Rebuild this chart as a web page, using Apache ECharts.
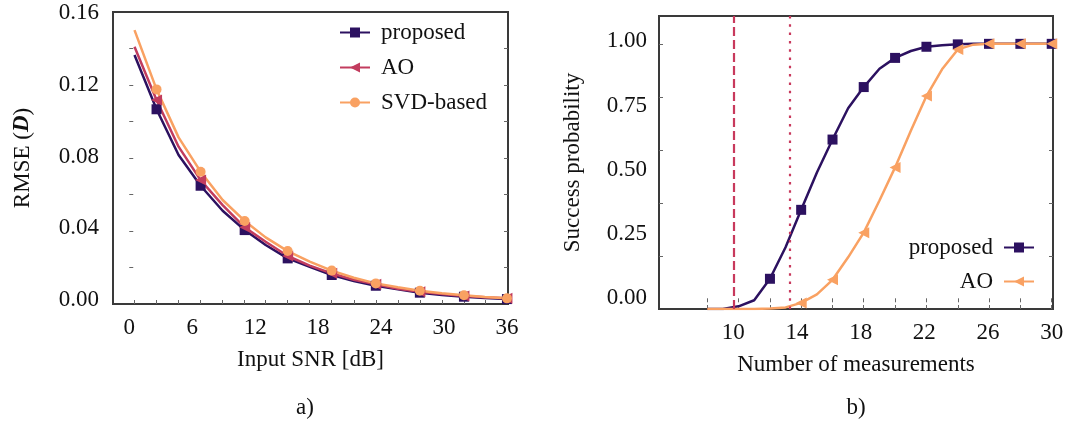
<!DOCTYPE html>
<html>
<head>
<meta charset="utf-8">
<script src="https://cdn.jsdelivr.net/npm/echarts@6/dist/echarts.min.js"></script>
<style>
  html, body { margin: 0; padding: 0; background: #ffffff; }
  #chart { width: 1067px; height: 426px; }
</style>
</head>
<body>
<div id="chart"></div>
<script>
// ---- (a) RMSE versus input SNR ----
const snrX = [0.5, 2.6, 4.7, 6.8, 8.9, 11.0, 13.0, 15.1, 17.2, 19.3, 21.4, 23.5, 25.6, 27.7, 29.8, 31.9, 33.9, 36.0];
const rmseProposed = [0.1364, 0.1067, 0.0816, 0.0648, 0.0511, 0.0405, 0.0323, 0.0250, 0.0204, 0.0159, 0.0126, 0.0100, 0.0081, 0.0062, 0.0049, 0.0040, 0.0033, 0.0027];
const rmseAO       = [0.1410, 0.1118, 0.0862, 0.0679, 0.0542, 0.0420, 0.0341, 0.0263, 0.0210, 0.0168, 0.0133, 0.0108, 0.0084, 0.0067, 0.0055, 0.0044, 0.0037, 0.0031];
const rmseSVD      = [0.1501, 0.1176, 0.0913, 0.0725, 0.0570, 0.0455, 0.0365, 0.0290, 0.0232, 0.0183, 0.0144, 0.0113, 0.0092, 0.0073, 0.0059, 0.0048, 0.0038, 0.0031];
const snrTickLabels = [0, 6, 12, 18, 24, 30, 36];
const rmseTickLabels = [0, 0.04, 0.08, 0.12, 0.16];
const rmseMinorTicks = [0.02, 0.04, 0.06, 0.08, 0.10, 0.12, 0.14];

// ---- (b) success probability versus number of measurements ----
const measX = [8.36, 9.34, 10.33, 11.31, 12.30, 13.28, 14.26, 15.25, 16.23, 17.21, 18.19, 19.18, 20.16, 21.15, 22.13, 23.11, 24.10, 25.08, 26.06, 27.05, 28.03, 29.02, 30.00];
const probProposed = [0, 0, 0.010, 0.033, 0.114, 0.233, 0.374, 0.515, 0.639, 0.757, 0.837, 0.906, 0.947, 0.973, 0.989, 0.995, 0.998, 1, 1, 1, 1, 1, 1];
const probAO       = [0, 0, 0, 0, 0.002, 0.006, 0.023, 0.055, 0.110, 0.195, 0.288, 0.409, 0.534, 0.672, 0.803, 0.904, 0.979, 0.997, 1, 1, 1, 1, 1];
const measTickLabels = [10, 14, 18, 22, 26, 30];
const probTickLabels = [0, 0.25, 0.5, 0.75, 1.0];
const probMinorTicks = [0.2, 0.4, 0.6, 0.8, 1.0];
const boundDashed = 10;
const boundDotted = 13.57;

const FONT = 'Liberation Serif';
const FS = 23;
const TXT = '#111111';
const C_PROP = '#2c1160';
const C_AO = '#c23c5e';
const C_SVD = '#f9a162';
const C_BOUND = '#c8395c';
const TICK = '#666666';

// markers on every other sample; points resting on the frame get no marker
function points(xs, ys, markerParity, minShown) {
  return xs.map((x, i) => {
    const item = { value: [x, ys[i]] };
    if (i % 2 !== markerParity || ys[i] < minShown) item.symbol = 'none';
    return item;
  });
}

function tickOnlyAxis(grid, position, min, max, ticks) {
  return {
    type: 'value', gridIndex: grid, position: position, min: min, max: max,
    axisLine: { show: false },
    axisLabel: { show: false },
    splitLine: { show: false },
    axisTick: { show: true, inside: true, length: 4, customValues: ticks, lineStyle: { color: TICK, width: 1 } }
  };
}

function labelAxis(grid, position, min, max, labels, fmt, margin, name, nameGap) {
  return {
    type: 'value', gridIndex: grid, position: position, min: min, max: max,
    axisLine: { show: false },
    axisTick: { show: false },
    splitLine: { show: false },
    axisLabel: {
      show: true, customValues: labels, margin: margin,
      fontFamily: FONT, fontSize: FS, color: TXT, formatter: fmt
    },
    name: name, nameLocation: 'middle', nameGap: nameGap,
    nameTextStyle: {
      fontFamily: FONT, fontSize: FS, color: TXT,
      rich: { it: { fontFamily: FONT, fontSize: FS, fontStyle: 'italic', fontWeight: 'bold', color: TXT } }
    }
  };
}

const legendNames = { 'b-proposed': 'proposed', 'b-AO': 'AO' };

const option = {
  animation: false,
  backgroundColor: '#ffffff',
  grid: [
    { left: 113, top: 12, width: 395, height: 292, show: true, borderColor: '#3a3a3a', borderWidth: 2, backgroundColor: 'transparent' },
    { left: 659, top: 16, width: 394, height: 293, show: true, borderColor: '#3a3a3a', borderWidth: 2, backgroundColor: 'transparent' }
  ],
  xAxis: [
    // (a) bottom: labels + ticks at sample positions
    Object.assign(labelAxis(0, 'bottom', -1.55, 36.1, snrTickLabels, v => String(v), 12, 'Input SNR [dB]', 44), {
      axisTick: { show: true, inside: true, length: 4, customValues: snrX, lineStyle: { color: TICK, width: 1 } }
    }),
    tickOnlyAxis(0, 'top', -1.55, 36.1, snrX),
    // (b)
    Object.assign(labelAxis(1, 'bottom', 5.33, 30.08, measTickLabels, v => String(v), 12, 'Number of measurements', 44), {
      axisTick: { show: true, inside: true, length: 4, customValues: measX.filter((x, i) => i % 2 === 0), lineStyle: { color: TICK, width: 1 } }
    }),
    tickOnlyAxis(1, 'top', 5.33, 30.08, measX.filter((x, i) => i % 2 === 0))
  ],
  yAxis: [
    // (a) data scale with ticks, label scale, right ticks
    tickOnlyAxis(0, 'left', 0, 0.16, rmseMinorTicks),
    labelAxis(0, 'left', -0.00223, 0.16056, rmseTickLabels, v => v.toFixed(2), 14, 'RMSE ({it|D})', 79),
    tickOnlyAxis(0, 'right', 0, 0.16, rmseMinorTicks),
    // (b)
    tickOnlyAxis(1, 'left', 0, 1.105, probMinorTicks),
    labelAxis(1, 'left', -0.0416, 1.0985, probTickLabels, v => v.toFixed(2), 12, 'Success probability', 75),
    tickOnlyAxis(1, 'right', 0, 1.105, probMinorTicks)
  ],
  legend: [
    {
      data: ['proposed', 'AO', 'SVD-based'],
      orient: 'vertical', left: 339, top: 21, padding: 0,
      itemWidth: 30, itemHeight: 12.5, itemGap: 12,
      selectedMode: false,
      textStyle: { fontFamily: FONT, fontSize: FS, color: TXT, padding: [0, 0, 0, 6] }
    },
    {
      data: ['b-proposed', 'b-AO'],
      orient: 'vertical', align: 'right', right: 32, top: 236, padding: 0,
      itemWidth: 30, itemHeight: 12.5, itemGap: 11,
      selectedMode: false,
      formatter: name => legendNames[name],
      textStyle: { fontFamily: FONT, fontSize: FS, color: TXT, padding: [0, 6, 0, 0] }
    }
  ],
  series: [
    {
      name: 'proposed', type: 'line', xAxisIndex: 0, yAxisIndex: 0,
      data: points(snrX, rmseProposed, 1, -1),
      symbol: 'rect', symbolSize: 10, showAllSymbol: true,
      lineStyle: { color: C_PROP, width: 2.5 }, itemStyle: { color: C_PROP }
    },
    {
      name: 'AO', type: 'line', xAxisIndex: 0, yAxisIndex: 0,
      data: points(snrX, rmseAO, 1, -1),
      symbol: 'triangle', symbolRotate: 90, symbolSize: 11, showAllSymbol: true,
      lineStyle: { color: C_AO, width: 2.5 }, itemStyle: { color: C_AO }
    },
    {
      name: 'SVD-based', type: 'line', xAxisIndex: 0, yAxisIndex: 0,
      data: points(snrX, rmseSVD, 1, -1),
      symbol: 'circle', symbolSize: 10, showAllSymbol: true,
      lineStyle: { color: C_SVD, width: 2.5 }, itemStyle: { color: C_SVD }
    },
    {
      name: 'b-proposed', type: 'line', xAxisIndex: 2, yAxisIndex: 3,
      data: points(measX, probProposed, 0, 0.015),
      symbol: 'rect', symbolSize: 10, showAllSymbol: true,
      lineStyle: { color: C_PROP, width: 2.5 }, itemStyle: { color: C_PROP },
      markLine: {
        silent: true, symbol: 'none', label: { show: false },
        data: [
          { xAxis: boundDashed, lineStyle: { color: C_BOUND, width: 2.2, type: [9, 4] } },
          { xAxis: boundDotted, lineStyle: { color: C_BOUND, width: 2.2, type: [2.5, 5.8] } }
        ]
      }
    },
    {
      name: 'b-AO', type: 'line', xAxisIndex: 2, yAxisIndex: 3,
      data: points(measX, probAO, 0, 0.015),
      symbol: 'triangle', symbolRotate: 90, symbolSize: 11, showAllSymbol: true,
      lineStyle: { color: C_SVD, width: 2.5 }, itemStyle: { color: C_SVD }
    }
  ],
  graphic: [
    { type: 'text', x: 305, y: 408, style: { text: 'a)', font: FS + 'px "' + FONT + '"', fill: TXT, textAlign: 'center', textVerticalAlign: 'middle' } },
    { type: 'text', x: 856, y: 408, style: { text: 'b)', font: FS + 'px "' + FONT + '"', fill: TXT, textAlign: 'center', textVerticalAlign: 'middle' } }
  ]
};

const chart = echarts.init(document.getElementById('chart'), null, { renderer: 'canvas' });
chart.setOption(option);
</script>
</body>
</html>
